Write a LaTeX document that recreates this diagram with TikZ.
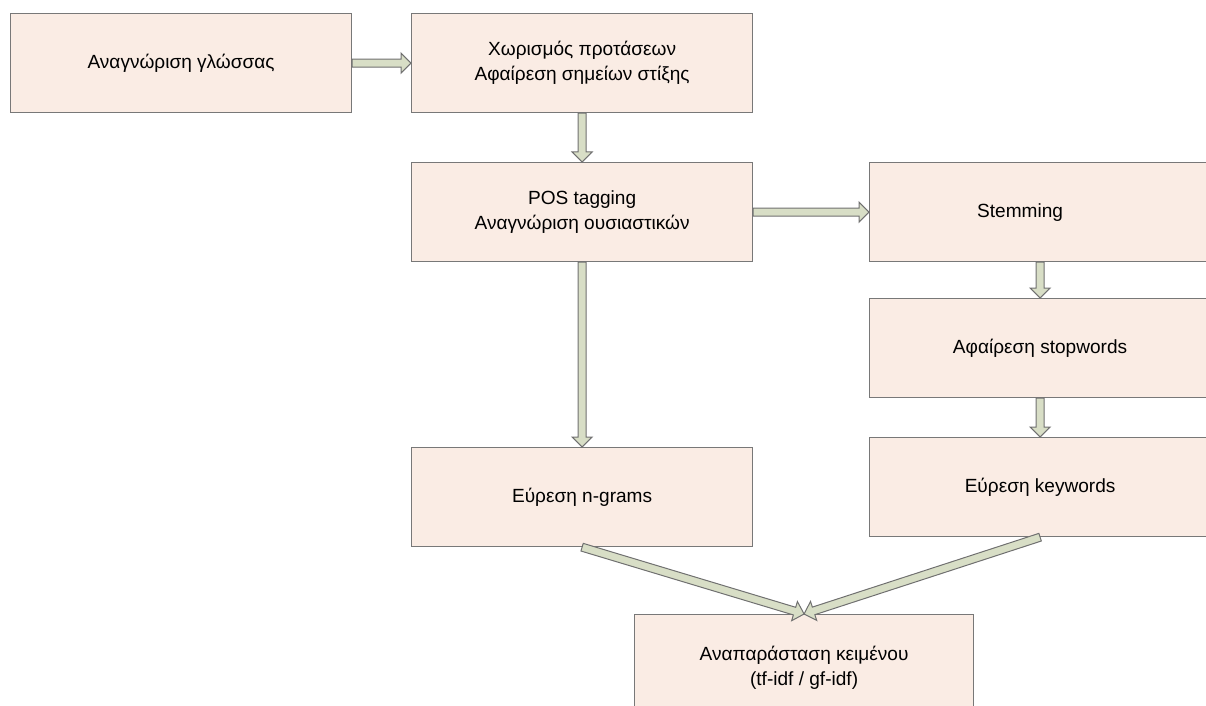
\documentclass[tikz,border=0pt]{standalone}
\usepackage{fontspec}
\setmainfont{Liberation Sans}
\usetikzlibrary{calc}
\definecolor{boxfill}{RGB}{250,236,228}
\definecolor{boxline}{RGB}{120,120,120}
\definecolor{arrowfill}{RGB}{216,222,198}
\definecolor{arrowline}{RGB}{112,112,112}
\tikzset{
  stage/.style={draw=boxline, fill=boxfill, line width=0.9pt,
    minimum width=255.75pt, minimum height=74.25pt, inner sep=0pt,
    align=center, anchor=north west,
    font=\fontsize{14.3}{18.75}\selectfont},
  % broad arrow: shaft 8px, head 20px wide and 10px long
  blockarrow/.style={draw=arrowline, fill=arrowfill, line width=0.75pt,
    line join=miter,
    to path={
      ($(\tikztostart)!3pt!90:(\tikztotarget)$)
      -- ($(\tikztotarget)!7.5pt!(\tikztostart)!3pt!90:(\tikztotarget)$)
      -- ($(\tikztotarget)!7.5pt!(\tikztostart)!7.5pt!90:(\tikztotarget)$)
      -- (\tikztotarget)
      -- ($(\tikztotarget)!7.5pt!(\tikztostart)!7.5pt!-90:(\tikztotarget)$)
      -- ($(\tikztotarget)!7.5pt!(\tikztostart)!3pt!-90:(\tikztotarget)$)
      -- ($(\tikztostart)!3pt!-90:(\tikztotarget)$)
      -- cycle}}
}
\begin{document}
\begin{tikzpicture}[x=0.75pt, y=-0.75pt]
  \useasboundingbox (0,0) rectangle (1206,706);
  \clip (0,0) rectangle (1206,706);

  \node[stage] (lang) at (10,13) {Αναγνώριση γλώσσας};
  \node[stage] (split) at (411,13) {Χωρισμός προτάσεων\\Αφαίρεση σημείων στίξης};
  \node[stage] (pos) at (411,162) {POS tagging\\Αναγνώριση ουσιαστικών};
  \node[stage] (stem) at (869,162) {Stemming\hspace*{30pt}};
  \node[stage] (stop) at (869,298) {Αφαίρεση stopwords};
  \node[stage] (kw) at (869,437) {Εύρεση keywords};
  \node[stage] (ngram) at (411,447) {Εύρεση n-grams};
  \node[stage, minimum width=254.25pt, minimum height=79.5pt] (repr) at (634,614)
    {Αναπαράσταση κειμένου\\(tf-idf / gf-idf)};

  \draw[blockarrow] (lang.east) to (split.west);
  \draw[blockarrow] (split.south) to (pos.north);
  \draw[blockarrow] (pos.east) to (stem.west);
  \draw[blockarrow] (pos.south) to (ngram.north);
  \draw[blockarrow] (stem.south) to (stop.north);
  \draw[blockarrow] (stop.south) to (kw.north);
  \draw[blockarrow] (ngram.south) to (repr.north);
  \draw[blockarrow] (kw.south) to (repr.north);
\end{tikzpicture}
\end{document}
